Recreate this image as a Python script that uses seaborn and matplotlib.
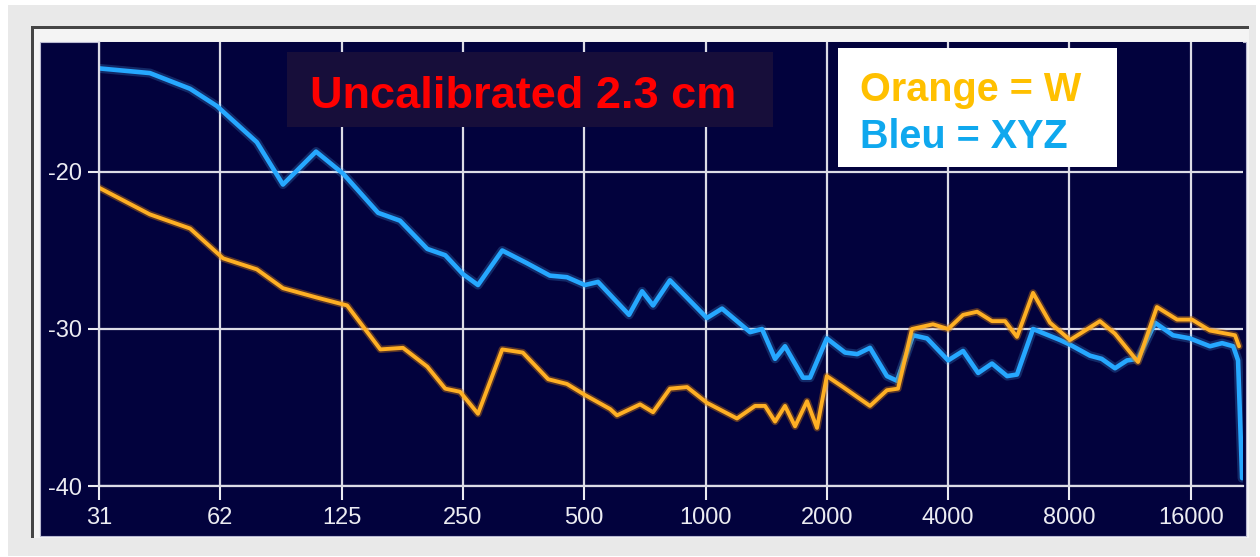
import numpy as np
import pandas as pd
import matplotlib
matplotlib.use("Agg")
import matplotlib.pyplot as plt
import matplotlib.patheffects as pe
from matplotlib.patches import Rectangle
from matplotlib.ticker import NullLocator
import seaborn as sns

# ---------------- data ----------------
freq_xyz = [31.25, 41.8, 52.6, 61.3, 77, 89.4, 108, 126, 154, 174.5, 204, 226, 250,
            272.5, 313, 360, 411, 453, 502, 541, 646, 696, 741, 816, 1008, 1099,
            1290, 1381, 1488, 1575, 1746, 1817, 2000, 2220, 2380, 2560, 2820, 2988,
            3274, 3546, 4000, 4357, 4749, 5140, 5604, 5929, 6498, 7580, 8028, 9000,
            9618, 10380, 11120, 11840, 13050, 14460, 15940, 17860, 19140, 20400,
            20970, 21460]
db_xyz = [-13.4, -13.7, -14.7, -15.8, -18.1, -20.8, -18.7, -20.1, -22.6, -23.1, -24.9,
          -25.3, -26.5, -27.2, -25.0, -25.8, -26.6, -26.7, -27.2, -27.0, -29.1, -27.6,
          -28.5, -26.9, -29.3, -28.7, -30.2, -30.0, -31.9, -31.1, -33.1, -33.1, -30.6,
          -31.5, -31.6, -31.2, -33.0, -33.3, -30.4, -30.6, -32.0, -31.4, -32.8, -32.2,
          -33.0, -32.9, -30.0, -30.7, -31.0, -31.7, -31.9, -32.5, -32.0, -31.9, -29.6,
          -30.4, -30.6, -31.1, -30.9, -31.1, -32.0, -39.5]

freq_w = [31.25, 41.8, 52.6, 63.5, 77, 89.4, 108.6, 129, 156, 177.5, 204, 226, 246,
          272.5, 313, 352, 407, 453, 502, 580, 603, 688, 741, 816, 900, 1008, 1197,
          1327, 1405, 1488, 1575, 1668, 1786, 1891, 2000, 2195, 2560, 2820, 3004,
          3254, 3668, 4000, 4357, 4720, 5140, 5537, 5929, 6498, 7160, 8028, 9524,
          10380, 11840, 13190, 14800, 16120, 17860, 20610, 21090]
db_w = [-21.0, -22.7, -23.6, -25.5, -26.2, -27.4, -28.0, -28.5, -31.3, -31.2, -32.4,
        -33.8, -34.0, -35.4, -31.3, -31.5, -33.2, -33.5, -34.2, -35.1, -35.5, -34.8,
        -35.3, -33.8, -33.7, -34.7, -35.7, -34.9, -34.9, -35.9, -34.9, -36.2, -34.6,
        -36.3, -33.0, -33.7, -34.9, -33.9, -33.8, -30.0, -29.7, -30.0, -29.1, -28.9,
        -29.5, -29.5, -30.5, -27.7, -29.6, -30.7, -29.5, -30.3, -32.1, -28.6, -29.4,
        -29.4, -30.1, -30.4, -31.1]

tick_freqs = [31.25, 62.5, 125, 250, 500, 1000, 2000, 4000, 8000, 16000]
tick_labels = ["31", "62", "125", "250", "500", "1000", "2000", "4000", "8000", "16000"]
y_ticks = [-20, -30, -40]
y_tick_labels = ["-20", "-30", "-40"]
title_text = "Uncalibrated 2.3 cm"
legend_lines = ["Orange = W", "Bleu = XYZ"]

# ---------------- styling ----------------
W, H = 1260, 557
NAVY = "#02023d"
GRID = "#dcdce6"
BLUE = "#26a8ff"
ORANGE = "#ffb024"

sns.set_style("dark")
plt.rcParams["font.family"] = ["Liberation Sans", "DejaVu Sans"]

fig = plt.figure(figsize=(W / 100, H / 100), dpi=100, facecolor="white")


def px_rect(x0, y0, x1, y1, **kw):
    r = Rectangle((x0 / W, 1 - y1 / H), (x1 - x0) / W, (y1 - y0) / H,
                  transform=fig.transFigure, **kw)
    fig.add_artist(r)
    return r


# window frame (light bevel, dark shadow on top and left only)
px_rect(8, 5, 1256, 556, facecolor="#e9e9e9", edgecolor="none", zorder=-4)
px_rect(31, 26, 1249, 538, facecolor="#f4f4f4", edgecolor="none", zorder=-3)
px_rect(31, 26, 1249, 29, facecolor="#454545", edgecolor="none", zorder=-2)
px_rect(31, 26, 34, 538, facecolor="#454545", edgecolor="none", zorder=-2)
px_rect(40, 42, 1246, 536, facecolor=NAVY, edgecolor="#b8b8d0", lw=0.8, zorder=-1)

ax = fig.add_axes([99 / W, 1 - 486 / H, (1243 - 99) / W, (486 - 42) / H])
ax.set_facecolor(NAVY)

df_xyz = pd.DataFrame({"freq": freq_xyz, "db": db_xyz})
df_w = pd.DataFrame({"freq": freq_w, "db": db_w})

glow_b = [pe.Stroke(linewidth=6.5, foreground="#4fb6ff", alpha=0.22), pe.Normal()]
glow_o = [pe.Stroke(linewidth=5.2, foreground="#c07010", alpha=0.45), pe.Normal()]

sns.lineplot(data=df_xyz, x="freq", y="db", ax=ax, color=BLUE, lw=3.3,
             estimator=None, sort=False, path_effects=glow_b)
sns.lineplot(data=df_w, x="freq", y="db", ax=ax, color=ORANGE, lw=2.8,
             estimator=None, sort=False, path_effects=glow_o)

ax.set_xscale("log", base=2)
ax.set_xlim(31.25, 21570)
ax.set_ylim(-40, -11.72)
ax.set_xticks(tick_freqs, tick_labels)
ax.xaxis.set_minor_locator(NullLocator())
ax.set_yticks(y_ticks, y_tick_labels)
ax.set_xlabel("")
ax.set_ylabel("")

ax.grid(True, color=GRID, lw=1.6)
for s in ["top", "right"]:
    ax.spines[s].set_visible(False)
for s in ["left", "bottom"]:
    ax.spines[s].set_visible(True)
    ax.spines[s].set_color(GRID)
    ax.spines[s].set_linewidth(1.6)

ax.tick_params(axis="x", colors="#ececf2", length=10, width=1.5, pad=5,
               labelsize=17, bottom=True)
ax.tick_params(axis="y", colors="#ececf2", length=8, width=1.5, pad=4,
               labelsize=17, left=True)

# title box
px_rect(287, 52, 773, 127, facecolor="#170e3a", edgecolor="none", zorder=5)
fig.text(310 / W, 1 - 108 / H, title_text, color="#ff0000", fontsize=32.5,
         fontweight="bold", ha="left", va="baseline", zorder=6)

# legend box
px_rect(838, 48, 1117, 167, facecolor="white", edgecolor="none", zorder=5)
fig.text(860 / W, 1 - 101 / H, legend_lines[0], color="#ffc000", fontsize=28.5,
         fontweight="bold", ha="left", va="baseline", zorder=6)
fig.text(860 / W, 1 - 148 / H, legend_lines[1], color="#0fa8ee", fontsize=28.5,
         fontweight="bold", ha="left", va="baseline", zorder=6)

fig.savefig("out.png", dpi=100, facecolor=fig.get_facecolor())
